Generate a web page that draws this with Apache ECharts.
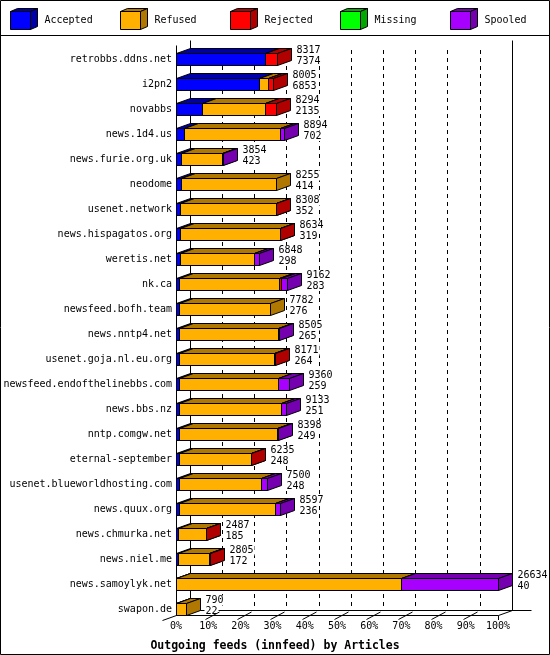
<!DOCTYPE html>
<html><head><meta charset="utf-8">
<script src="https://cdn.jsdelivr.net/npm/echarts@6/dist/echarts.min.js"></script>
<style>html,body{margin:0;padding:0;background:#fff}#c{width:550px;height:655px}</style>
</head><body><div id="c"></div>
<script>
const categories = ['retrobbs.ddns.net','i2pn2','novabbs','news.1d4.us','news.furie.org.uk','neodome','usenet.network','news.hispagatos.org','weretis.net','nk.ca','newsfeed.bofh.team','news.nntp4.net','usenet.goja.nl.eu.org','newsfeed.endofthelinebbs.com','news.bbs.nz','nntp.comgw.net','eternal-september','usenet.blueworldhosting.com','news.quux.org','news.chmurka.net','news.niel.me','news.samoylyk.net','swapon.de'];
const offered  = [8317,8005,8294,8894,3854,8255,8308,8634,6848,9162,7782,8505,8171,9360,9133,8398,6235,7500,8597,2487,2805,26634,790];
const accepted = [7374,6853,2135,702,423,414,352,319,298,283,276,265,264,259,251,249,248,248,236,185,172,40,22];
const refused  = [0,760,5240,7900,3411,7841,7936,8290,6170,8250,7506,8200,7817,8174,8415,8124,5967,6782,7964,2282,2562,18535,768];
const rejected = [943,392,919,0,0,0,20,25,0,170,0,0,90,0,0,0,20,0,0,20,71,0,0];
const missing  = [0,0,0,0,0,0,0,0,0,0,0,0,0,0,0,0,0,0,0,0,0,0,0];
const spooled  = [0,0,0,292,20,0,0,0,380,459,0,40,0,927,467,25,0,470,397,0,0,8059,0];
const seriesNames = ['Accepted','Refused','Rejected','Missing','Spooled'];
const xTickLabels = ['0%','10%','20%','30%','40%','50%','60%','70%','80%','90%','100%'];
const axisTitle = 'Outgoing feeds (innfeed) by Articles';

const FRONT = ['#0000ff','#ffb000','#ff0000','#00ff00','#a800ff'];
const DARK  = ['#0000a8','#b07800','#b00000','#00a800','#7400b0'];
const DX = 14, DY = 5;
const MONO = '"DejaVu Sans Mono", "Liberation Mono", monospace';

const segs = [accepted, refused, rejected, missing, spooled];
const MAXV = Math.max.apply(null, offered);
const pct = v => v / MAXV * 100;

function makeRender(j) {
  return function (params, api) {
    const s = api.value(0), e = api.value(1), ci = api.value(2);
    if (!(e > s)) return null;
    const a = api.coord([s, ci]), b = api.coord([e, ci]);
    const band = api.size([0, 1])[1];
    const yt = Math.floor(a[1] - band * 0.24) + 0.5;
    const yb = yt + Math.round(band * 0.48);
    const x0 = Math.round(a[0]) + 0.5, x1 = Math.round(b[0]) + 0.5;
    const st = { stroke: '#000', lineWidth: 1 };
    return { type: 'group', children: [
      { type: 'polygon', shape: { points: [[x0, yt], [x1, yt], [x1, yb], [x0, yb]] }, style: Object.assign({ fill: FRONT[j] }, st) },
      { type: 'polygon', shape: { points: [[x0, yt], [x1, yt], [x1 + DX, yt - DY], [x0 + DX, yt - DY]] }, style: Object.assign({ fill: DARK[j] }, st) },
      { type: 'polygon', shape: { points: [[x1, yt], [x1 + DX, yt - DY], [x1 + DX, yb - DY], [x1, yb]] }, style: Object.assign({ fill: DARK[j] }, st) }
    ]};
  };
}

const series = seriesNames.map((name, j) => ({
  name: name, type: 'custom', xAxisIndex: 0, yAxisIndex: 0,
  encode: { x: [0, 1], y: 2 },
  renderItem: makeRender(j),
  data: categories.map((c, i) => {
    let start = 0;
    for (let k = 0; k < j; k++) start += segs[k][i];
    return [pct(start), pct(start + segs[j][i]), i];
  })
}));

series.push({
  name: 'labels', type: 'custom', xAxisIndex: 0, yAxisIndex: 0, z: 3,
  encode: { x: 0, y: 1 },
  renderItem: function (params, api) {
    const p = api.coord([api.value(0), api.value(1)]);
    const x = Math.round(p[0]) + 0.5 + DX + 4;
    const mk = (t, y) => ({ type: 'text', x: x, y: y, style: { text: String(t), fill: '#000', font: '10px ' + MONO, align: 'left', verticalAlign: 'middle', textAlign: 'left', textVerticalAlign: 'middle', backgroundColor: '#fff', padding: [0, 1, 0, 1] } });
    return { type: 'group', children: [mk(api.value(2), p[1] - 9), mk(api.value(3), p[1] + 1.5)] };
  },
  data: categories.map((c, i) => [pct(offered[i]), i, offered[i], accepted[i]])
});

const option = {
  backgroundColor: '#fff',
  animation: false,
  title: { text: axisTitle, left: 'center', top: 635, textStyle: { fontFamily: MONO, fontSize: 11.5, fontWeight: 'bold', color: '#000' } },
  grid: [
    { left: 176, top: 47, width: 322, height: 575 },
    { left: 190, top: 50, width: 322, bottom: 44.5 }
  ],
  xAxis: [
    { gridIndex: 0, type: 'value', min: 0, max: 100, interval: 10,
      axisLine: { show: false }, axisTick: { show: false }, splitLine: { show: false },
      axisLabel: { margin: -1, color: '#000', fontFamily: MONO, fontSize: 10, showMinLabel: true, showMaxLabel: true,
        formatter: v => xTickLabels[Math.round(v / 10)] } },
    { gridIndex: 1, type: 'value', min: 0, max: 100, interval: 10,
      axisLine: { show: false }, axisTick: { show: false }, axisLabel: { show: false },
      splitLine: { show: true, lineStyle: { color: '#000', width: 1, type: [4, 4] } } }
  ],
  yAxis: [
    { gridIndex: 0, type: 'category', inverse: true, data: categories,
      axisLine: { show: false }, axisTick: { show: false }, splitLine: { show: false },
      axisLabel: { margin: 4, color: '#000', fontFamily: MONO, fontSize: 10 } },
    { gridIndex: 1, type: 'value', show: false, min: 0, max: 1 }
  ],
  series: series
};

const chart = echarts.init(document.getElementById('c'), null, { renderer: 'canvas' });
chart.setOption(option);

const px = v => Math.round(chart.convertToPixel({ xAxisIndex: 0 }, v)) + 0.5;
const L = (x1, y1, x2, y2, z) => ({ type: 'line', z: z, shape: { x1: x1, y1: y1, x2: x2, y2: y2 }, style: { stroke: '#000', lineWidth: 1 } });
const FL = 615.5, BL = 610.5;
const x0 = px(0), x100 = px(100);
const els = [];
els.push({ type: 'rect', z: 20, shape: { x: 0.5, y: 0.5, width: 549, height: 654 }, style: { fill: null, stroke: '#000', lineWidth: 1 } });
els.push(L(0, 35.5, 550, 35.5, 20));
els.push(L(x0 + DX, 40.5, x0 + DX, BL, 1));
els.push(L(x100 + DX, 40.5, x100 + DX, BL, 1));
els.push(L(x0 + DX, BL, x100 + DX + 19, BL, 1));
els.push(L(x0, 45.5, x0, FL, 5));
els.push(L(x0, FL, x100, FL, 5));
els.push(L(x0 - DX, FL + DY, x0, FL, 5));
els.push(L(x100, FL, x100 + DX, BL, 5));
els.push(L(x100, FL, x100, FL + 4.5, 5));
for (let k = 1; k < 10; k++) {
  const xf = px(k * 10);
  els.push(L(xf - 3, FL + 4, xf + 11, FL - 3.5, 5));
}
seriesNames.forEach((name, j) => {
  const bx = 10 + 110 * j;
  const st = { stroke: '#000', lineWidth: 1 };
  els.push({ type: 'polygon', z: 20, shape: { points: [[bx + .5, 11.5], [bx + 20.5, 11.5], [bx + 20.5, 29.5], [bx + .5, 29.5]] }, style: Object.assign({ fill: FRONT[j] }, st) });
  els.push({ type: 'polygon', z: 20, shape: { points: [[bx + .5, 11.5], [bx + 20.5, 11.5], [bx + 27.5, 8.5], [bx + 7.5, 8.5]] }, style: Object.assign({ fill: DARK[j] }, st) });
  els.push({ type: 'polygon', z: 20, shape: { points: [[bx + 20.5, 11.5], [bx + 27.5, 8.5], [bx + 27.5, 26.5], [bx + 20.5, 29.5]] }, style: Object.assign({ fill: DARK[j] }, st) });
  els.push({ type: 'text', z: 20, x: bx + 34.5, y: 20.5, style: { text: name, fill: '#000', font: '10px ' + MONO, verticalAlign: 'middle', textVerticalAlign: 'middle' } });
});
chart.setOption({ graphic: { elements: els } });
</script></body></html>
